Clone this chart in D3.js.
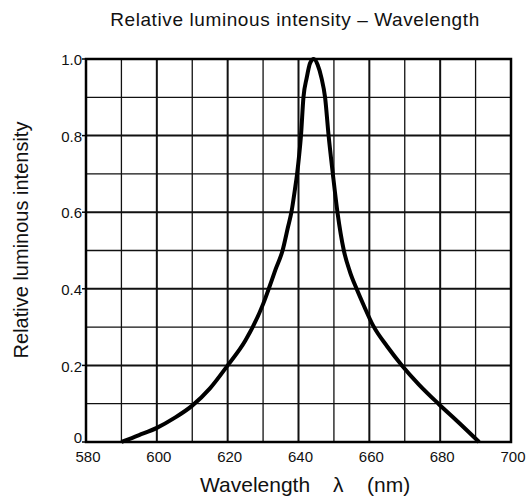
<!DOCTYPE html>
<html>
<head>
<meta charset="utf-8">
<script src="https://cdn.jsdelivr.net/npm/d3@7"></script>
<style>
  body { margin: 0; background: #fff; }
  svg text { font-family: "Liberation Sans", Arial, sans-serif; fill: #111; }
</style>
</head>
<body>
<div id="chart"></div>
<script>
// values
var wavelength = [590, 595, 600, 605, 610, 615, 620, 625, 630, 631.6, 633.5, 635.5, 637, 638, 639, 639.6, 640.2, 640.7, 641.4, 642.3, 643.3, 644.3, 645.4, 646.5, 647.5, 648.5, 649.7, 651, 652.8, 654.5, 656.4, 658.5, 661, 665, 669.2, 674, 679.5, 685, 691];
var intensity  = [0, 0.018, 0.037, 0.063, 0.095, 0.14, 0.2, 0.265, 0.36, 0.4, 0.45, 0.5, 0.56, 0.6, 0.66, 0.7, 0.75, 0.8, 0.9, 0.95, 0.99, 1.0, 0.985, 0.95, 0.9, 0.8, 0.7, 0.6, 0.5, 0.445, 0.4, 0.355, 0.305, 0.25, 0.2, 0.15, 0.1, 0.053, 0];
var xTicks = [580, 600, 620, 640, 660, 680, 700];
var yTicks = [0, 0.2, 0.4, 0.6, 0.8, 1.0];

var width = 531, height = 499;
var margin = {top: 59, right: 20, bottom: 57, left: 86};
var w = width - margin.left - margin.right,
    h = height - margin.top - margin.bottom;

var svg = d3.select("#chart").append("svg")
    .attr("width", width)
    .attr("height", height);

var g = svg.append("g")
    .attr("transform", "translate(" + margin.left + "," + margin.top + ")");

var x = d3.scaleLinear().domain([580, 700]).range([0, w]);
var y = d3.scaleLinear().domain([0, 1]).range([h, 0]);

// grid: every 10 nm and every 0.1, heavier on labelled lines
var xGrid = d3.range(590, 700, 10);
var yGrid = d3.range(1, 10).map(function(d) { return d / 10; });

g.selectAll(".vgrid").data(xGrid).enter().append("line")
    .attr("x1", function(d) { return x(d); })
    .attr("x2", function(d) { return x(d); })
    .attr("y1", 0).attr("y2", h)
    .attr("stroke", "#111")
    .attr("stroke-width", function(d) { return d % 20 == 0 ? 2 : 1.3; });

g.selectAll(".hgrid").data(yGrid).enter().append("line")
    .attr("y1", function(d) { return y(d); })
    .attr("y2", function(d) { return y(d); })
    .attr("x1", 0).attr("x2", w)
    .attr("stroke", "#111")
    .attr("stroke-width", function(d) { return Math.round(d * 10) % 2 == 0 ? 2 : 1.3; });

// frame
g.append("rect")
    .attr("width", w).attr("height", h)
    .attr("fill", "none")
    .attr("stroke", "#000")
    .attr("stroke-width", 2.5);

// small outer ticks on y
g.selectAll(".ytick").data(yTicks).enter().append("line")
    .attr("x1", -4).attr("x2", 0)
    .attr("y1", function(d) { return y(d); })
    .attr("y2", function(d) { return y(d); })
    .attr("stroke", "#000").attr("stroke-width", 1.5);

// tick labels
g.selectAll(".xlab").data(xTicks).enter().append("text")
    .attr("x", function(d) { return x(d) + 2; })
    .attr("y", h + 20)
    .attr("text-anchor", "middle")
    .attr("font-size", 15)
    .text(function(d) { return d; });

g.selectAll(".ylab").data(yTicks).enter().append("text")
    .attr("x", -4)
    .attr("y", function(d) { return d == 0 ? y(d) - 4 : y(d) + 1; })
    .attr("dy", "0.35em")
    .attr("text-anchor", "end")
    .attr("font-size", 15)
    .text(function(d) { return d == 0 ? "0" : d3.format(".1f")(d); });

// curve
var line = d3.line()
    .x(function(d) { return x(d[0]); })
    .y(function(d) { return y(d[1]); })
    .curve(d3.curveMonotoneX);

g.append("path")
    .datum(d3.zip(wavelength, intensity))
    .attr("d", line)
    .attr("fill", "none")
    .attr("stroke", "#000")
    .attr("stroke-width", 4)
    .attr("stroke-linejoin", "round");

// titles
svg.append("text")
    .attr("x", 295).attr("y", 26)
    .attr("text-anchor", "middle")
    .attr("font-size", 19)
    .attr("letter-spacing", 0.6)
    .text("Relative luminous intensity \u2013 Wavelength");

var xt = svg.append("text")
    .attr("y", 492)
    .attr("font-size", 21);
xt.append("tspan").attr("x", 200).text("Wavelength");
xt.append("tspan").attr("x", 333).text("\u03bb");
xt.append("tspan").attr("x", 367).text("(nm)");

svg.append("text")
    .attr("transform", "translate(28,240) rotate(-90)")
    .attr("text-anchor", "middle")
    .attr("font-size", 20)
    .text("Relative luminous intensity");
</script>
</body>
</html>
